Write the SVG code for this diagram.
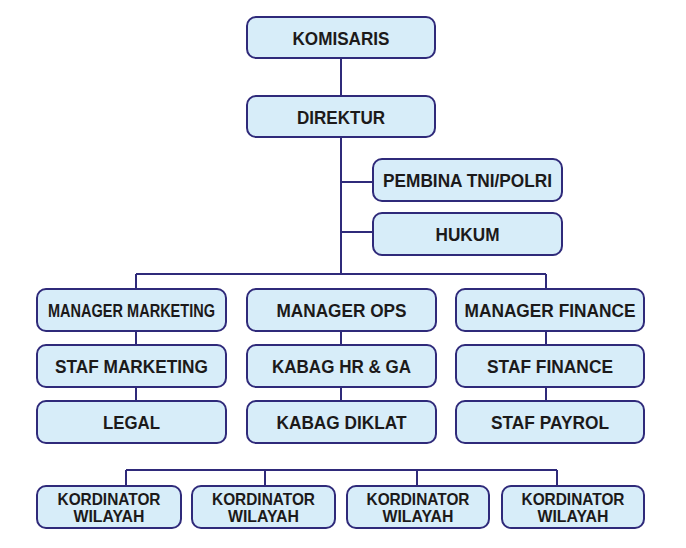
<svg xmlns="http://www.w3.org/2000/svg" width="686" height="548" viewBox="0 0 686 548">
<style>
.box{fill:#d7edf9;stroke:#2f2a7a;stroke-width:2}
.t{font-family:"Liberation Sans",Arial,sans-serif;font-weight:bold;font-size:19px;fill:#1c1a1a;text-anchor:middle}
.s{font-size:16.5px}
.ln{fill:none;stroke:#2f2a7a;stroke-width:2}
</style>
<rect width="686" height="548" fill="#ffffff"/>
<g id="connectors" class="ln">
<path d="M341 58V96M341 137V274M341 182H373M341 232H373M136 274H546M136 274V289M546 274V289M136 331V345M136 387V401M341 331V345M341 387V401M546 331V345M546 387V401M126 470H557M126 470V486M265 470V486M417 470V486M557 470V486"/>
</g>
<g id="komisaris"><rect class="box" x="247" y="17" width="188" height="41" rx="9"/><text class="t" x="341" y="45" textLength="97" lengthAdjust="spacingAndGlyphs">KOMISARIS</text></g>
<g id="direktur"><rect class="box" x="247" y="96" width="188" height="41" rx="9"/><text class="t" x="341" y="124" textLength="88" lengthAdjust="spacingAndGlyphs">DIREKTUR</text></g>
<g id="pembina"><rect class="box" x="373" y="159" width="189" height="42" rx="9"/><text class="t" x="467.5" y="187" textLength="169" lengthAdjust="spacingAndGlyphs">PEMBINA TNI/POLRI</text></g>
<g id="hukum"><rect class="box" x="373" y="213" width="189" height="42" rx="9"/><text class="t" x="467.5" y="241" textLength="64" lengthAdjust="spacingAndGlyphs">HUKUM</text></g>
<g id="manager-marketing"><rect class="box" x="37" y="289" width="189" height="42" rx="9"/><text class="t" x="131.5" y="317" textLength="167" lengthAdjust="spacingAndGlyphs">MANAGER MARKETING</text></g>
<g id="staf-marketing"><rect class="box" x="37" y="345" width="189" height="42" rx="9"/><text class="t" x="131.5" y="373" textLength="153" lengthAdjust="spacingAndGlyphs">STAF MARKETING</text></g>
<g id="legal"><rect class="box" x="37" y="401" width="189" height="42" rx="9"/><text class="t" x="131.5" y="429" textLength="57" lengthAdjust="spacingAndGlyphs">LEGAL</text></g>
<g id="manager-ops"><rect class="box" x="247" y="289" width="189" height="42" rx="9"/><text class="t" x="341.5" y="317" textLength="130" lengthAdjust="spacingAndGlyphs">MANAGER OPS</text></g>
<g id="kabag-hr"><rect class="box" x="247" y="345" width="189" height="42" rx="9"/><text class="t" x="341.5" y="373" textLength="139" lengthAdjust="spacingAndGlyphs">KABAG HR &amp; GA</text></g>
<g id="kabag-diklat"><rect class="box" x="247" y="401" width="189" height="42" rx="9"/><text class="t" x="341.5" y="429" textLength="130" lengthAdjust="spacingAndGlyphs">KABAG DIKLAT</text></g>
<g id="manager-finance"><rect class="box" x="456" y="289" width="188" height="42" rx="9"/><text class="t" x="550" y="317" textLength="171" lengthAdjust="spacingAndGlyphs">MANAGER FINANCE</text></g>
<g id="staf-finance"><rect class="box" x="456" y="345" width="188" height="42" rx="9"/><text class="t" x="550" y="373" textLength="126" lengthAdjust="spacingAndGlyphs">STAF FINANCE</text></g>
<g id="staf-payrol"><rect class="box" x="456" y="401" width="188" height="42" rx="9"/><text class="t" x="550" y="429" textLength="118" lengthAdjust="spacingAndGlyphs">STAF PAYROL</text></g>
<g id="kordinator-1"><rect class="box" x="37" y="486" width="144" height="42" rx="9"/><text class="t s" x="109" y="505" textLength="103" lengthAdjust="spacingAndGlyphs">KORDINATOR</text><text class="t s" x="109" y="522" textLength="71" lengthAdjust="spacingAndGlyphs">WILAYAH</text></g>
<g id="kordinator-2"><rect class="box" x="192" y="486" width="143" height="42" rx="9"/><text class="t s" x="263.5" y="505" textLength="103" lengthAdjust="spacingAndGlyphs">KORDINATOR</text><text class="t s" x="263.5" y="522" textLength="71" lengthAdjust="spacingAndGlyphs">WILAYAH</text></g>
<g id="kordinator-3"><rect class="box" x="347" y="486" width="142" height="42" rx="9"/><text class="t s" x="418" y="505" textLength="103" lengthAdjust="spacingAndGlyphs">KORDINATOR</text><text class="t s" x="418" y="522" textLength="71" lengthAdjust="spacingAndGlyphs">WILAYAH</text></g>
<g id="kordinator-4"><rect class="box" x="502" y="486" width="142" height="42" rx="9"/><text class="t s" x="573" y="505" textLength="103" lengthAdjust="spacingAndGlyphs">KORDINATOR</text><text class="t s" x="573" y="522" textLength="71" lengthAdjust="spacingAndGlyphs">WILAYAH</text></g>
</svg>
